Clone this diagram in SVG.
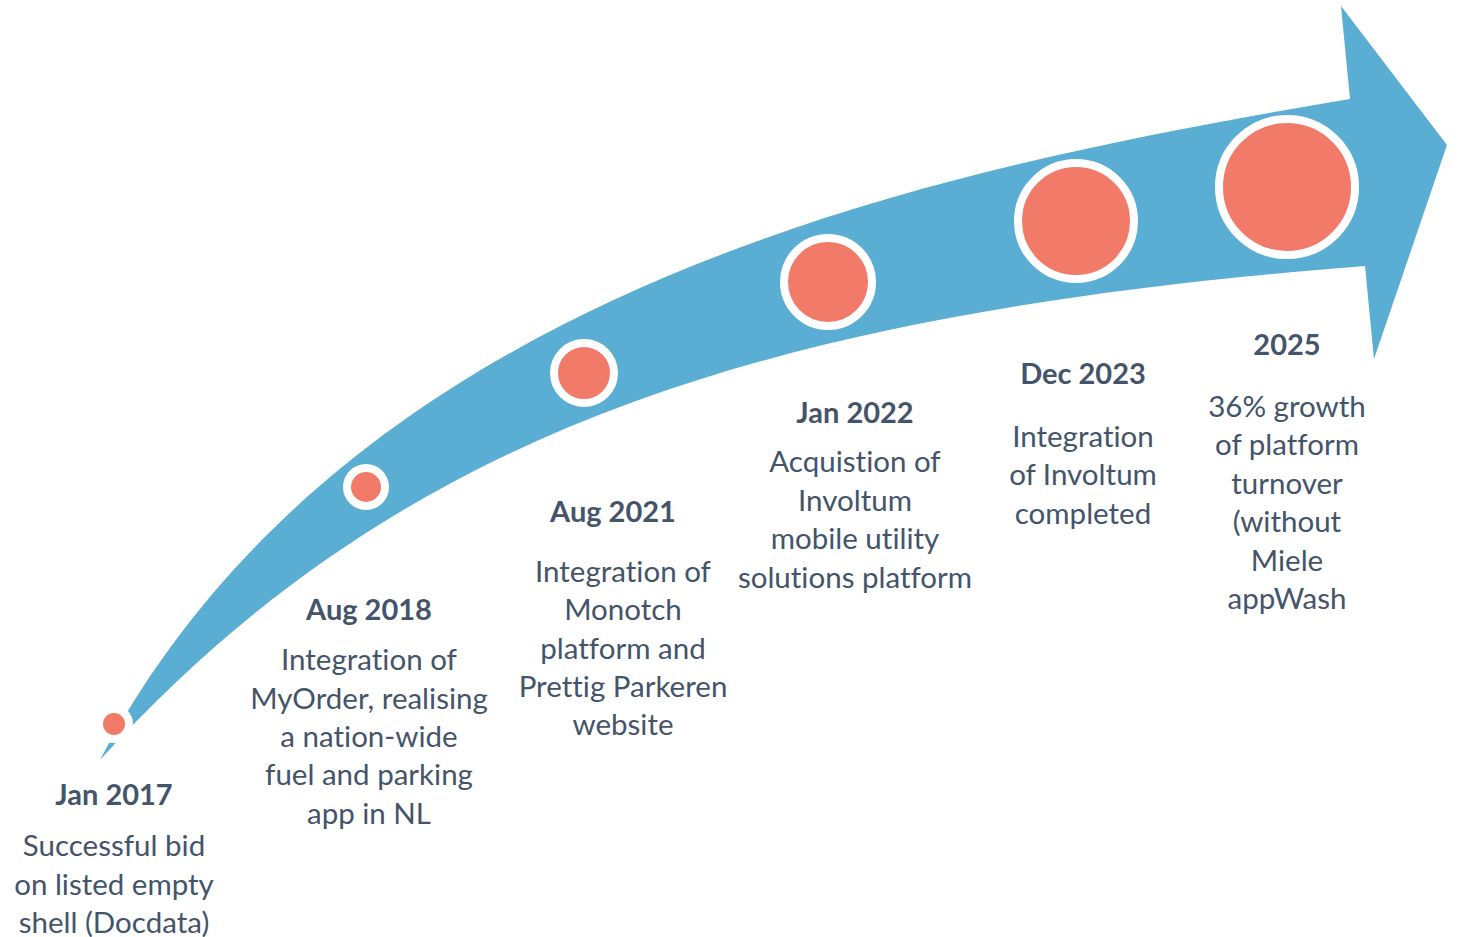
<svg xmlns="http://www.w3.org/2000/svg" width="1458" height="937" viewBox="0 0 1458 937">
  <style>
    .band { fill: #5BAED3; }
    .dot { fill: #F27A69; stroke: #FFFFFF; stroke-width: 8; }
    text { font-family: Lato, "Open Sans", sans-serif; fill: #44546A; text-anchor: middle; font-variant-ligatures: none; font-feature-settings: "liga" 0, "clig" 0; }
    .title { font-weight: bold; font-size: 29px; }
    .body { font-size: 29.5px; }
  </style>
  <rect width="1458" height="937" fill="#FFFFFF"/>

  <!-- curved growth arrow -->
  <g id="arrow">
    <path class="band" d="M100,760 C354,280 950,167 1350,99 L1341,6 L1447,145 L1374,359 L1365,266 C765,313 400,430 100,760 Z"/>
  </g>

  <!-- milestones: dot + date + description -->
  <g id="m2017">
    <circle class="dot" cx="114" cy="724" r="15"/>
    <text class="title" x="114" y="805">Jan 2017</text>
    <text class="body" x="114" y="856">Successful bid</text>
    <text class="body" x="114" y="895">on listed empty</text>
    <text class="body" x="114" y="933">shell (Docdata)</text>
  </g>

  <g id="m2018">
    <circle class="dot" cx="366" cy="487" r="19"/>
    <text class="title" x="369" y="620">Aug 2018</text>
    <text class="body" x="369" y="670">Integration of</text>
    <text class="body" x="369" y="709">MyOrder, realising</text>
    <text class="body" x="369" y="747">a nation-wide</text>
    <text class="body" x="369" y="785">fuel and parking</text>
    <text class="body" x="369" y="824">app in NL</text>
  </g>

  <g id="m2021">
    <circle class="dot" cx="584" cy="373" r="30"/>
    <text class="title" x="613" y="522">Aug 2021</text>
    <text class="body" x="623" y="582">Integration of</text>
    <text class="body" x="623" y="620">Monotch</text>
    <text class="body" x="623" y="659">platform and</text>
    <text class="body" x="623" y="697">Prettig Parkeren</text>
    <text class="body" x="623" y="735">website</text>
  </g>

  <g id="m2022">
    <circle class="dot" cx="828" cy="282" r="44"/>
    <text class="title" x="855" y="423">Jan 2022</text>
    <text class="body" x="855" y="472">Acquistion of</text>
    <text class="body" x="855" y="511">Involtum</text>
    <text class="body" x="855" y="549">mobile utility</text>
    <text class="body" x="855" y="588">solutions platform</text>
  </g>

  <g id="m2023">
    <circle class="dot" cx="1076" cy="221" r="58"/>
    <text class="title" x="1083" y="384">Dec 2023</text>
    <text class="body" x="1083" y="447">Integration</text>
    <text class="body" x="1083" y="485">of Involtum</text>
    <text class="body" x="1083" y="524">completed</text>
  </g>

  <g id="m2025">
    <circle class="dot" cx="1287" cy="187" r="68"/>
    <text class="title" x="1287" y="355">2025</text>
    <text class="body" x="1287" y="417">36% growth</text>
    <text class="body" x="1287" y="455">of platform</text>
    <text class="body" x="1287" y="494">turnover</text>
    <text class="body" x="1287" y="532">(without</text>
    <text class="body" x="1287" y="571">Miele</text>
    <text class="body" x="1287" y="609">appWash</text>
  </g>
</svg>
